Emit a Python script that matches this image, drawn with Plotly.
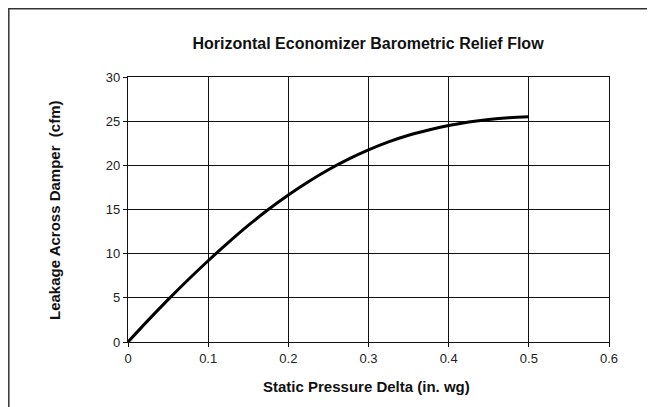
import plotly.graph_objects as go

# Data
pressure_delta = [0, 0.025, 0.05, 0.075, 0.1, 0.125, 0.15, 0.175, 0.2, 0.225, 0.25,
                  0.275, 0.3, 0.325, 0.35, 0.375, 0.4, 0.425, 0.45, 0.475, 0.5]
leakage_cfm = [0, 2.45, 4.8, 7.05, 9.2, 11.25, 13.2, 15.0, 16.65, 18.15, 19.5,
               20.7, 21.75, 22.65, 23.4, 24.0, 24.5, 24.9, 25.2, 25.4, 25.5]

x_ticks = [0, 0.1, 0.2, 0.3, 0.4, 0.5, 0.6]
x_tick_labels = ["0", "0.1", "0.2", "0.3", "0.4", "0.5", "0.6"]
y_ticks = [0, 5, 10, 15, 20, 25, 30]
y_tick_labels = ["0", "5", "10", "15", "20", "25", "30"]

# figure sits inside the page's 8px body margin
W, H = 647, 399
L, R, T, B = 120, 46, 69, 65
pw, ph = W - L - R, H - T - B

def px_x(p):
    return (p - L) / pw

def px_y(p):
    return (H - B - p) / ph

fig = go.Figure()
fig.add_trace(go.Scatter(
    x=pressure_delta, y=leakage_cfm, mode="lines",
    line=dict(color="black", width=3, shape="spline", smoothing=1.0),
    showlegend=False, hoverinfo="x+y"))

font_family = "Liberation Sans, Arial, sans-serif"

fig.update_layout(
    width=W, height=H,
    margin=dict(l=L, r=R, t=T, b=B, autoexpand=False),
    paper_bgcolor="white", plot_bgcolor="white",
    font=dict(family=font_family, size=13, color="#222"),
    title=dict(text="<b>Horizontal Economizer Barometric Relief Flow</b>",
               x=px_x(360), xref="paper", xanchor="center",
               y=1 - 35 / H, yref="container", yanchor="middle",
               font=dict(size=16, color="#111", family=font_family)),
    xaxis=dict(range=[0, 0.6], tickvals=x_ticks, ticktext=x_tick_labels,
               showgrid=True, gridcolor="#111", gridwidth=1,
               showline=True, linecolor="#111", linewidth=1.2, mirror=True,
               ticks="outside", ticklen=4, tickcolor="#111", tickwidth=1,
               zeroline=False, fixedrange=True, automargin=False,
               tickfont=dict(size=13, color="#222")),
    yaxis=dict(range=[0, 30], tickvals=y_ticks, ticktext=y_tick_labels,
               showgrid=True, gridcolor="#111", gridwidth=1,
               showline=True, linecolor="#111", linewidth=1.2, mirror=True,
               ticks="outside", ticklen=4, tickcolor="#111", tickwidth=1,
               zeroline=False, fixedrange=True, automargin=False,
               tickfont=dict(size=13, color="#222")),
    annotations=[
        dict(text="<b>Static Pressure Delta (in. wg)</b>", xref="paper", yref="paper",
             x=px_x(358), y=px_y(378), xanchor="center", yanchor="middle",
             showarrow=False, font=dict(size=15, color="#111")),
        dict(text="<b>Leakage Across Damper  (cfm)</b>", xref="paper", yref="paper",
             x=px_x(46), y=px_y(202), xanchor="center", yanchor="middle",
             textangle=-90, showarrow=False, font=dict(size=15, color="#111")),
    ],
    shapes=[dict(type="rect", xref="paper", yref="paper",
                 x0=px_x(0.8), x1=px_x(W + 20), y0=px_y(H + 20), y1=px_y(0.8),
                 line=dict(color="#333", width=1.5), fillcolor="rgba(0,0,0,0)",
                 layer="below")],
)

fig.write_html("out.html")
